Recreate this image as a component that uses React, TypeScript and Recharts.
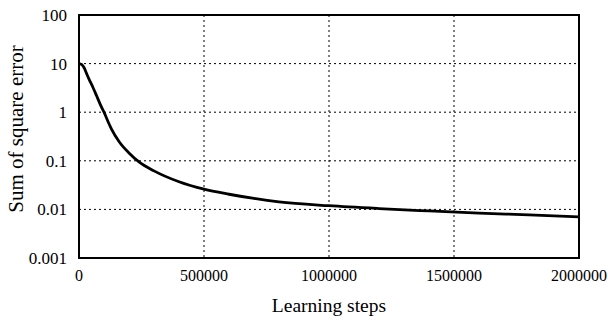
import React from 'react';
import { LineChart, Line, XAxis, YAxis, CartesianGrid, ReferenceArea } from 'recharts';

const steps = [0, 10000, 20000, 30000, 40000, 55000, 70000, 85000, 100000, 115000, 130000, 160000, 200000, 240000, 300000, 400000, 500000, 600000, 700000, 800000, 1000000, 1200000, 1400000, 1600000, 1800000, 2000000];
const sse = [10, 9.6, 8.3, 6.3, 4.8, 3.3, 2.2, 1.45, 1.0, 0.66, 0.45, 0.25, 0.145, 0.095, 0.062, 0.037, 0.026, 0.0205, 0.0168, 0.0143, 0.0119, 0.0104, 0.0093, 0.0084, 0.0077, 0.007];
const xTicks = [0, 500000, 1000000, 1500000, 2000000];
const yTicks = [0.001, 0.01, 0.1, 1, 10, 100];
const xTitle = 'Learning steps';
const yTitle = 'Sum of square error';

const data = steps.map((s, i) => ({ step: s, sse: sse[i] }));

const FONT = '"Liberation Serif", "Times New Roman", serif';

const XTick = (props: any) => {
  const { x, y, payload } = props;
  return (
    <text x={x} y={y} dy="0.71em" textAnchor="middle" fill="#000" style={{ fontSize: 16, fontFamily: FONT }}>
      {String(payload.value)}
    </text>
  );
};

const YTick = (props: any) => {
  const { x, y, payload } = props;
  return (
    <text x={x} y={y} dy="0.355em" textAnchor="end" fill="#000" style={{ fontSize: 17, fontFamily: FONT }}>
      {String(payload.value)}
    </text>
  );
};

export default function App() {
  return (
    <div style={{ position: 'absolute', left: 0, top: 0, width: 608, height: 323, background: '#fff' }}>
      <LineChart width={608} height={323} data={data} margin={{ top: 15, right: 29, left: 0, bottom: 0 }}>
        <CartesianGrid stroke="#000" strokeWidth={1} strokeDasharray="2 3" />
        <XAxis
          dataKey="step"
          type="number"
          domain={[0, 2000000]}
          ticks={xTicks}
          interval={0}
          height={65}
          tickLine={false}
          tickSize={0}
          tickMargin={12}
          axisLine={false}
          tick={<XTick />}
          label={{
            content: () => (
              <text x={329} y={311.5} textAnchor="middle" fill="#000" style={{ fontSize: 19.5, fontFamily: FONT }}>
                {xTitle}
              </text>
            ),
          }}
        />
        <YAxis
          type="number"
          scale="log"
          domain={[0.001, 100]}
          allowDataOverflow
          ticks={yTicks}
          interval={0}
          width={79}
          tickLine={false}
          tickSize={0}
          tickMargin={12}
          axisLine={false}
          tick={<YTick />}
          label={{
            content: () => (
              <text x={23} y={129} textAnchor="middle" fill="#000" transform="rotate(-90 23 129)" style={{ fontSize: 21, fontFamily: FONT }}>
                {yTitle}
              </text>
            ),
          }}
        />
        <ReferenceArea x1={0} x2={2000000} y1={0.001} y2={100} fill="none" stroke="#000" strokeWidth={2} ifOverflow="visible" />
        <Line type="monotone" dataKey="sse" stroke="#000" strokeWidth={2.8} dot={false} isAnimationActive={false} />
      </LineChart>
    </div>
  );
}
